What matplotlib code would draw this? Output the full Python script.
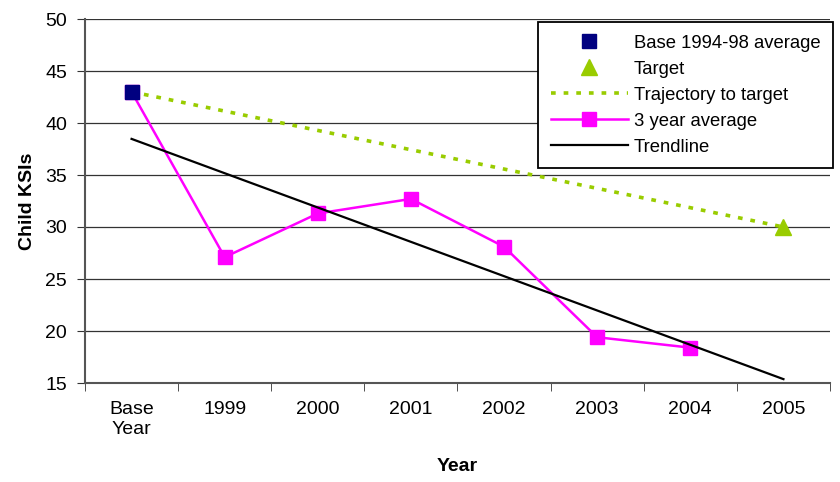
import matplotlib
matplotlib.use("Agg")
import matplotlib.pyplot as plt
import numpy as np

plt.rcParams['font.family'] = ['Liberation Sans', 'DejaVu Sans']

categories = ["Base\nYear", "1999", "2000", "2001", "2002", "2003", "2004", "2005"]
three_year_avg = [43.0, 27.1, 31.3, 32.7, 28.1, 19.4, 18.4]
base_value = [43.0]
target_value = [30.0]
trajectory = [43.0, 30.0]

x = np.arange(len(categories))
x_avg = x[:len(three_year_avg)]
coef = np.polyfit(x_avg, three_year_avg, 1)
trend_x = np.array([x[0], x[-1]])
trend_y = np.polyval(coef, trend_x)

fig = plt.figure(figsize=(8.4, 4.82), dpi=100)
ax = fig.add_axes([85/840, 1-383/482, (830-85)/840, (383-19)/482])

ax.set_ylim(15, 50)
ax.set_xlim(-0.5, len(categories) - 0.5)
ax.set_yticks(np.arange(15, 51, 5))
ax.grid(axis='y', color='#333333', linewidth=0.9)
ax.set_axisbelow(True)

ax.plot([x[0], x[-1]], trajectory, color='#99CC00', linestyle=(0, (1.3, 2.2)), linewidth=2.6,
        label='Trajectory to target', zorder=3)
ax.plot(x_avg, three_year_avg, color='#FF00FF', linewidth=1.8, marker='s', markersize=10,
        label='3 year average', zorder=4)
ax.plot(trend_x, trend_y, color='black', linewidth=1.6, label='Trendline', zorder=5)
ax.plot([x[0]], base_value, linestyle='none', marker='s', markersize=10, color='#000080',
        label='Base 1994-98 average', zorder=6)
ax.plot([x[-1]], target_value, linestyle='none', marker='^', markersize=11, color='#99CC00',
        label='Target', zorder=6)

ax.set_xticks(x)
ax.set_xticklabels(categories, fontsize=14)
ax.set_xticks(np.arange(-0.5, len(categories), 1), minor=True)
ax.tick_params(axis='x', which='major', length=0, pad=13)
ax.tick_params(axis='x', which='minor', length=6, color='#333333')
ax.tick_params(axis='y', labelsize=14, length=6, color='#333333', pad=7)

for s in ['top', 'right']:
    ax.spines[s].set_visible(False)
for s in ['left', 'bottom']:
    ax.spines[s].set_color('#555555')
    ax.spines[s].set_linewidth(1.5)

ax.set_ylabel('Child KSIs', fontsize=14, fontweight='bold')
ax.yaxis.set_label_coords(-0.066, 0.5)
ax.set_xlabel('Year', fontsize=14, fontweight='bold')
ax.xaxis.set_label_coords(0.5, -0.206)

handles, labels = ax.get_legend_handles_labels()
order = ['Base 1994-98 average', 'Target', 'Trajectory to target', '3 year average', 'Trendline']
hl = dict(zip(labels, handles))
leg = fig.legend([hl[o] for o in order], order, loc='upper left',
                 bbox_to_anchor=(538/840, 1-22/482), fontsize=13.3, frameon=True,
                 fancybox=False, edgecolor='black', framealpha=1, handlelength=4.2,
                 handletextpad=0.3, labelspacing=0.49, borderpad=0.68, borderaxespad=0)
leg.get_frame().set_linewidth(1.3)

fig.savefig('out.png', dpi=100)
